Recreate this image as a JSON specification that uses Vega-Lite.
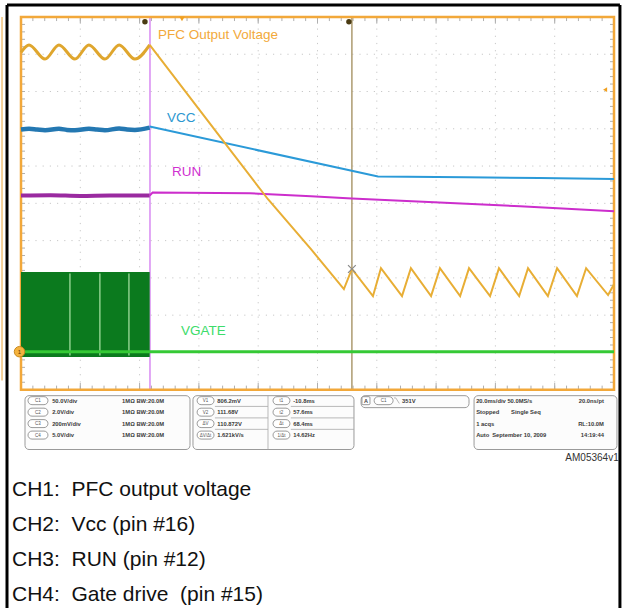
{
  "$schema": "https://vega.github.io/schema/vega-lite/v6.json",
  "width": 622,
  "height": 610,
  "autosize": {"type": "fit", "contains": "padding"},
  "padding": 0,
  "background": "white",
  "config": {"view": {"stroke": null}, "text": {"font": "Liberation Sans"}},
  "datasets": {
    "gridx": [{"t": 20}, {"t": 40}, {"t": 60}, {"t": 80}, {"t": 100}, {"t": 120}, {"t": 140}, {"t": 160}, {"t": 180}],
    "gridy": [{"v": 1}, {"v": 2}, {"v": 3}, {"v": 4}, {"v": 5}, {"v": 6}, {"v": 7}, {"v": 8}, {"v": 9}],
    "xticks": [{"t":4},{"t":8},{"t":12},{"t":16},{"t":20},{"t":24},{"t":28},{"t":32},{"t":36},{"t":40},{"t":44},{"t":48},{"t":52},{"t":56},{"t":60},{"t":64},{"t":68},{"t":72},{"t":76},{"t":80},{"t":84},{"t":88},{"t":92},{"t":96},{"t":100},{"t":104},{"t":108},{"t":112},{"t":116},{"t":120},{"t":124},{"t":128},{"t":132},{"t":136},{"t":140},{"t":144},{"t":148},{"t":152},{"t":156},{"t":160},{"t":164},{"t":168},{"t":172},{"t":176},{"t":180},{"t":184},{"t":188},{"t":192},{"t":196}],
    "yticks": [{"v":0.2},{"v":0.4},{"v":0.6},{"v":0.8},{"v":1.0},{"v":1.2},{"v":1.4},{"v":1.6},{"v":1.8},{"v":2.0},{"v":2.2},{"v":2.4},{"v":2.6},{"v":2.8},{"v":3.0},{"v":3.2},{"v":3.4},{"v":3.6},{"v":3.8},{"v":4.0},{"v":4.2},{"v":4.4},{"v":4.6},{"v":4.8},{"v":5.0},{"v":5.2},{"v":5.4},{"v":5.6},{"v":5.8},{"v":6.0},{"v":6.2},{"v":6.4},{"v":6.6},{"v":6.8},{"v":7.0},{"v":7.2},{"v":7.4},{"v":7.6},{"v":7.8},{"v":8.0},{"v":8.2},{"v":8.4},{"v":8.6},{"v":8.8},{"v":9.0},{"v":9.2},{"v":9.4},{"v":9.6},{"v":9.8}],
    "border": [
      {"t": -4.72, "v": 10.32, "t2": 202.0, "v2": 10.32},
      {"t": -4.72, "v": 10.32, "t2": -4.72, "v2": -5.856},
      {"t": 202.0, "v": 10.32, "t2": 202.0, "v2": -5.856}
    ],
    "frame": [{"t": 0, "t2": 200, "v": 0, "v2": 10}],
    "pfc_ripple": [
      {"t": 0, "v": 9.05}, {"t": 2.7, "v": 9.25}, {"t": 8.1, "v": 8.87}, {"t": 12.8, "v": 9.25}, {"t": 18.2, "v": 8.87},
      {"t": 22.9, "v": 9.25}, {"t": 28.3, "v": 8.87}, {"t": 33.1, "v": 9.25}, {"t": 38.4, "v": 8.87}, {"t": 43.4, "v": 9.25}
    ],
    "pfc": [
      {"t": 43.4, "v": 9.25}, {"t": 69.1, "v": 6.58}, {"t": 83.3, "v": 5.11}, {"t": 97.8, "v": 3.77}, {"t": 108.9, "v": 2.7},
      {"t": 111.6, "v": 3.24}, {"t": 118.7, "v": 2.51}, {"t": 121.4, "v": 3.26}, {"t": 128.5, "v": 2.51}, {"t": 131.5, "v": 3.26},
      {"t": 138.3, "v": 2.51}, {"t": 141.3, "v": 3.26}, {"t": 148.1, "v": 2.51}, {"t": 151.1, "v": 3.26}, {"t": 158.2, "v": 2.51},
      {"t": 161.2, "v": 3.26}, {"t": 168.0, "v": 2.51}, {"t": 171.0, "v": 3.26}, {"t": 177.7, "v": 2.51}, {"t": 180.8, "v": 3.26},
      {"t": 187.5, "v": 2.51}, {"t": 190.6, "v": 3.26}, {"t": 198.0, "v": 2.54}, {"t": 200, "v": 2.83}
    ],
    "vcc_pre": [
      {"t": 0, "v": 6.98}, {"t": 2.7, "v": 7.0}, {"t": 5.4, "v": 6.98}, {"t": 8.1, "v": 6.96}, {"t": 12.8, "v": 7.0}, {"t": 15.5, "v": 6.97}, {"t": 18.2, "v": 6.96},
      {"t": 22.9, "v": 7.0}, {"t": 25.6, "v": 6.98}, {"t": 28.3, "v": 6.96}, {"t": 33.1, "v": 7.01}, {"t": 35.8, "v": 6.98}, {"t": 38.4, "v": 6.97}, {"t": 43.4, "v": 7.03}
    ],
    "vcc": [
      {"t": 43.4, "v": 7.06}, {"t": 120.4, "v": 5.72}, {"t": 150, "v": 5.7}, {"t": 175, "v": 5.68}, {"t": 200, "v": 5.65}
    ],
    "run_pre": [
      {"t": 0, "v": 5.21}, {"t": 10, "v": 5.22}, {"t": 20, "v": 5.2}, {"t": 30, "v": 5.21}, {"t": 43.4, "v": 5.21}
    ],
    "run": [
      {"t": 43.4, "v": 5.21}, {"t": 44.4, "v": 5.29}, {"t": 77.2, "v": 5.27}, {"t": 97.8, "v": 5.19}, {"t": 111.6, "v": 5.13},
      {"t": 139.3, "v": 5.03}, {"t": 168.3, "v": 4.92}, {"t": 200, "v": 4.79}
    ],
    "gate": [{"t": 0, "v": 1.02}, {"t": 200, "v": 1.02}],
    "gate_block": [{"t": 0, "t2": 43.4, "v": 0.88, "v2": 3.16}],
    "gate_gaps": [{"t": 16.5}, {"t": 26.6}, {"t": 36.4}],
    "trig": [{"t": 43.5}],
    "cursor": [{"t": 111.6}],
    "dots": [{"t": 41.8, "v": 9.87}, {"t": 110.6, "v": 9.87}],
    "xmark": [{"t": 111.6, "v": 3.24}],
    "tmark": [{"t": 54.3, "v": 9.95}],
    "lvl": [{"t": 197.0, "v": 8.05}],
    "gnd": [{"t": -0.5, "v": 1.02, "label": "1"}],
    "labels": [
      {"t": 46.2, "v": 9.52, "label": "PFC Output Voltage"},
      {"t": 49.2, "v": 7.3, "label": "VCC"},
      {"t": 50.9, "v": 5.83, "label": "RUN"},
      {"t": 54.0, "v": 1.58, "label": "VGATE"}
    ],
    "boxes": [
      {"t": 1.35, "t2": 57.0, "v": -0.16, "v2": -1.604},
      {"t": 58.0, "t2": 112.3, "v": -0.16, "v2": -1.604},
      {"t": 114.7, "t2": 151.1, "v": -0.16, "v2": -0.481},
      {"t": 152.8, "t2": 201.0, "v": -0.16, "v2": -1.604}
    ],
    "pills": [
      {"t": 2.36, "t2": 9.1, "v": -0.187, "v2": -0.401, "label": "C1"},
      {"t": 2.36, "t2": 9.1, "v": -0.495, "v2": -0.709, "label": "C2"},
      {"t": 2.36, "t2": 9.1, "v": -0.802, "v2": -1.016, "label": "C3"},
      {"t": 2.36, "t2": 9.1, "v": -1.11, "v2": -1.324, "label": "C4"},
      {"t": 59.4, "t2": 65.1, "v": -0.187, "v2": -0.401, "label": "V1"},
      {"t": 59.4, "t2": 65.1, "v": -0.495, "v2": -0.709, "label": "V2"},
      {"t": 59.4, "t2": 65.1, "v": -0.802, "v2": -1.016, "label": "ΔV"},
      {"t": 59.4, "t2": 65.1, "v": -1.11, "v2": -1.324, "label": "ΔV/Δt"},
      {"t": 85.0, "t2": 90.7, "v": -0.187, "v2": -0.401, "label": "t1"},
      {"t": 85.0, "t2": 90.7, "v": -0.495, "v2": -0.709, "label": "t2"},
      {"t": 85.0, "t2": 90.7, "v": -0.802, "v2": -1.016, "label": "Δt"},
      {"t": 85.0, "t2": 90.7, "v": -1.11, "v2": -1.324, "label": "1/Δt"},
      {"t": 119.1, "t2": 125.5, "v": -0.187, "v2": -0.401, "label": "C1"}
    ],
    "abox": [{"t": 115.0, "t2": 117.7, "v": -0.187, "v2": -0.401, "label": "A"}],
    "seps": [
      {"t": 83.3, "t2": 83.3, "v": -0.16, "v2": -1.604},
      {"t": 65.4, "t2": 83.3, "v": -0.448, "v2": -0.448},
      {"t": 65.4, "t2": 83.3, "v": -0.756, "v2": -0.756},
      {"t": 65.4, "t2": 83.3, "v": -1.063, "v2": -1.063},
      {"t": 91.0, "t2": 112.3, "v": -0.448, "v2": -0.448},
      {"t": 91.0, "t2": 112.3, "v": -0.756, "v2": -0.756},
      {"t": 91.0, "t2": 112.3, "v": -1.063, "v2": -1.063},
      {"t": 125.8, "t2": 126.4, "v": -0.22, "v2": -0.22},
      {"t": 126.4, "t2": 127.6, "v": -0.22, "v2": -0.37}
    ],
    "boxtext": [
      {"t": 10.5, "v": -0.294, "label": "50.0V/div"},
      {"t": 10.5, "v": -0.602, "label": "2.0V/div"},
      {"t": 10.5, "v": -0.909, "label": "200mV/div"},
      {"t": 10.5, "v": -1.217, "label": "5.0V/div"},
      {"t": 34.1, "v": -0.294, "label": "1MΩ  BW:20.0M"},
      {"t": 34.1, "v": -0.602, "label": "1MΩ  BW:20.0M"},
      {"t": 34.1, "v": -0.909, "label": "1MΩ  BW:20.0M"},
      {"t": 34.1, "v": -1.217, "label": "1MΩ  BW:20.0M"},
      {"t": 66.2, "v": -0.294, "label": "806.2mV"},
      {"t": 66.2, "v": -0.602, "label": "111.68V"},
      {"t": 66.2, "v": -0.909, "label": "110.872V"},
      {"t": 66.2, "v": -1.217, "label": "1.621kV/s"},
      {"t": 91.8, "v": -0.294, "label": "-10.8ms"},
      {"t": 91.8, "v": -0.602, "label": "57.6ms"},
      {"t": 91.8, "v": -0.909, "label": "68.4ms"},
      {"t": 91.8, "v": -1.217, "label": "14.62Hz"},
      {"t": 128.5, "v": -0.294, "label": "351V"},
      {"t": 153.5, "v": -0.294, "label": "20.0ms/div 50.0MS/s"},
      {"t": 153.5, "v": -0.602, "label": "Stopped"},
      {"t": 165.3, "v": -0.602, "label": "Single Seq"},
      {"t": 153.5, "v": -0.909, "label": "1 acqs"},
      {"t": 153.5, "v": -1.217, "label": "Auto"},
      {"t": 158.9, "v": -1.217, "label": "September 10, 2009"}
    ],
    "boxtext_r": [
      {"t": 196.6, "v": -0.294, "label": "20.0ns/pt"},
      {"t": 196.6, "v": -0.909, "label": "RL:10.0M"},
      {"t": 196.6, "v": -1.217, "label": "14:19:44"}
    ],
    "ref": [{"t": 201.6, "v": -1.82, "label": "AM05364v1"}],
    "ch": [
      {"t": -3.04, "v": -2.69, "label": "CH1:\u00a0 PFC output voltage"},
      {"t": -3.04, "v": -3.625, "label": "CH2:\u00a0 Vcc (pin #16)"},
      {"t": -3.04, "v": -4.56, "label": "CH3:\u00a0 RUN (pin #12)"},
      {"t": -3.04, "v": -5.495, "label": "CH4:\u00a0 Gate drive\u00a0 (pin #15)"}
    ],
    "edge": [{"t": -6.4, "t2": -6.4, "v": 10.0, "v2": 0.25}]
  },
  "layer": [
    {"data": {"name": "gridx"}, "mark": {"type": "rule", "color": "#C8C8C8", "strokeWidth": 1, "strokeDash": [1.2, 6]},
     "encoding": {
       "x": {"field": "t", "type": "quantitative", "scale": {"domain": [-7.083, 202.698], "nice": false, "zero": false}, "axis": null},
       "y": {"datum": 0, "type": "quantitative", "scale": {"domain": [-5.856, 10.455], "nice": false, "zero": false}, "axis": null},
       "y2": {"datum": 10}}},
    {"data": {"name": "gridy"}, "mark": {"type": "rule", "color": "#C8C8C8", "strokeWidth": 1, "strokeDash": [1.2, 6]},
     "encoding": {
       "x": {"datum": 0, "type": "quantitative", "scale": {"domain": [-7.083, 202.698], "nice": false, "zero": false}, "axis": null},
       "x2": {"datum": 200},
       "y": {"field": "v", "type": "quantitative", "scale": {"domain": [-5.856, 10.455], "nice": false, "zero": false}, "axis": null}}},
    {"data": {"name": "xticks"}, "mark": {"type": "rule", "color": "#AFAFAF", "strokeWidth": 1},
     "encoding": {
       "x": {"field": "t", "type": "quantitative", "scale": {"domain": [-7.083, 202.698], "nice": false, "zero": false}, "axis": null},
       "y": {"datum": 10, "type": "quantitative", "scale": {"domain": [-5.856, 10.455], "nice": false, "zero": false}, "axis": null},
       "y2": {"datum": 9.89}}},
    {"data": {"name": "xticks"}, "mark": {"type": "rule", "color": "#AFAFAF", "strokeWidth": 1},
     "encoding": {
       "x": {"field": "t", "type": "quantitative", "scale": {"domain": [-7.083, 202.698], "nice": false, "zero": false}, "axis": null},
       "y": {"datum": 0, "type": "quantitative", "scale": {"domain": [-5.856, 10.455], "nice": false, "zero": false}, "axis": null},
       "y2": {"datum": 0.11}}},
    {"data": {"name": "gridx"}, "mark": {"type": "rule", "color": "#AFAFAF", "strokeWidth": 1},
     "encoding": {
       "x": {"field": "t", "type": "quantitative", "scale": {"domain": [-7.083, 202.698], "nice": false, "zero": false}, "axis": null},
       "y": {"datum": 10, "type": "quantitative", "scale": {"domain": [-5.856, 10.455], "nice": false, "zero": false}, "axis": null},
       "y2": {"datum": 9.82}}},
    {"data": {"name": "gridx"}, "mark": {"type": "rule", "color": "#AFAFAF", "strokeWidth": 1},
     "encoding": {
       "x": {"field": "t", "type": "quantitative", "scale": {"domain": [-7.083, 202.698], "nice": false, "zero": false}, "axis": null},
       "y": {"datum": 0, "type": "quantitative", "scale": {"domain": [-5.856, 10.455], "nice": false, "zero": false}, "axis": null},
       "y2": {"datum": 0.18}}},
    {"data": {"name": "yticks"}, "mark": {"type": "rule", "color": "#AFAFAF", "strokeWidth": 1},
     "encoding": {
       "x": {"datum": 0, "type": "quantitative", "scale": {"domain": [-7.083, 202.698], "nice": false, "zero": false}, "axis": null},
       "x2": {"datum": 1.35},
       "y": {"field": "v", "type": "quantitative", "scale": {"domain": [-5.856, 10.455], "nice": false, "zero": false}, "axis": null}}},
    {"data": {"name": "yticks"}, "mark": {"type": "rule", "color": "#AFAFAF", "strokeWidth": 1},
     "encoding": {
       "x": {"datum": 200, "type": "quantitative", "scale": {"domain": [-7.083, 202.698], "nice": false, "zero": false}, "axis": null},
       "x2": {"datum": 198.65},
       "y": {"field": "v", "type": "quantitative", "scale": {"domain": [-5.856, 10.455], "nice": false, "zero": false}, "axis": null}}},
    {"data": {"name": "border"}, "mark": {"type": "rule", "color": "#000000", "strokeWidth": 3},
     "encoding": {
       "x": {"field": "t", "type": "quantitative", "scale": {"domain": [-7.083, 202.698], "nice": false, "zero": false}, "axis": null},
       "x2": {"field": "t2"},
       "y": {"field": "v", "type": "quantitative", "scale": {"domain": [-5.856, 10.455], "nice": false, "zero": false}, "axis": null},
       "y2": {"field": "v2"}}},
    {"data": {"name": "edge"}, "mark": {"type": "rule", "color": "#F0C27A", "strokeWidth": 1.5},
     "encoding": {
       "x": {"field": "t", "type": "quantitative", "scale": {"domain": [-7.083, 202.698], "nice": false, "zero": false}, "axis": null},
       "x2": {"field": "t2"},
       "y": {"field": "v", "type": "quantitative", "scale": {"domain": [-5.856, 10.455], "nice": false, "zero": false}, "axis": null},
       "y2": {"field": "v2"}}},
    {"data": {"name": "trig"}, "mark": {"type": "rule", "color": "#D88AF2", "strokeWidth": 1.5},
     "encoding": {
       "x": {"field": "t", "type": "quantitative", "scale": {"domain": [-7.083, 202.698], "nice": false, "zero": false}, "axis": null},
       "y": {"datum": 0, "type": "quantitative", "scale": {"domain": [-5.856, 10.455], "nice": false, "zero": false}, "axis": null},
       "y2": {"datum": 10}}},
    {"data": {"name": "cursor"}, "mark": {"type": "rule", "color": "#AD9B70", "strokeWidth": 1.5},
     "encoding": {
       "x": {"field": "t", "type": "quantitative", "scale": {"domain": [-7.083, 202.698], "nice": false, "zero": false}, "axis": null},
       "y": {"datum": 0, "type": "quantitative", "scale": {"domain": [-5.856, 10.455], "nice": false, "zero": false}, "axis": null},
       "y2": {"datum": 10}}},
    {"data": {"name": "frame"}, "mark": {"type": "rect", "fillOpacity": 0, "stroke": "#F2A83A", "strokeWidth": 2.5},
     "encoding": {
       "x": {"field": "t", "type": "quantitative", "scale": {"domain": [-7.083, 202.698], "nice": false, "zero": false}, "axis": null},
       "x2": {"field": "t2"},
       "y": {"field": "v", "type": "quantitative", "scale": {"domain": [-5.856, 10.455], "nice": false, "zero": false}, "axis": null},
       "y2": {"field": "v2"}}},
    {"data": {"name": "gate_block"}, "mark": {"type": "rect", "color": "#0B7A1E"},
     "encoding": {
       "x": {"field": "t", "type": "quantitative", "scale": {"domain": [-7.083, 202.698], "nice": false, "zero": false}, "axis": null},
       "x2": {"field": "t2"},
       "y": {"field": "v", "type": "quantitative", "scale": {"domain": [-5.856, 10.455], "nice": false, "zero": false}, "axis": null},
       "y2": {"field": "v2"}}},
    {"data": {"name": "gate_gaps"}, "mark": {"type": "rule", "color": "#8CCF8C", "strokeWidth": 1.5},
     "encoding": {
       "x": {"field": "t", "type": "quantitative", "scale": {"domain": [-7.083, 202.698], "nice": false, "zero": false}, "axis": null},
       "y": {"datum": 0.92, "type": "quantitative", "scale": {"domain": [-5.856, 10.455], "nice": false, "zero": false}, "axis": null},
       "y2": {"datum": 3.12}}},
    {"data": {"name": "gate"}, "mark": {"type": "line", "color": "#35C935", "strokeWidth": 3},
     "encoding": {
       "x": {"field": "t", "type": "quantitative", "scale": {"domain": [-7.083, 202.698], "nice": false, "zero": false}, "axis": null},
       "y": {"field": "v", "type": "quantitative", "scale": {"domain": [-5.856, 10.455], "nice": false, "zero": false}, "axis": null}}},
    {"data": {"name": "run_pre"}, "mark": {"type": "line", "color": "#9A2AA0", "strokeWidth": 4, "interpolate": "monotone"},
     "encoding": {
       "x": {"field": "t", "type": "quantitative", "scale": {"domain": [-7.083, 202.698], "nice": false, "zero": false}, "axis": null},
       "y": {"field": "v", "type": "quantitative", "scale": {"domain": [-5.856, 10.455], "nice": false, "zero": false}, "axis": null}}},
    {"data": {"name": "run"}, "mark": {"type": "line", "color": "#CC2ECC", "strokeWidth": 2},
     "encoding": {
       "x": {"field": "t", "type": "quantitative", "scale": {"domain": [-7.083, 202.698], "nice": false, "zero": false}, "axis": null},
       "y": {"field": "v", "type": "quantitative", "scale": {"domain": [-5.856, 10.455], "nice": false, "zero": false}, "axis": null}}},
    {"data": {"name": "vcc_pre"}, "mark": {"type": "line", "color": "#2478B2", "strokeWidth": 4.5, "interpolate": "monotone"},
     "encoding": {
       "x": {"field": "t", "type": "quantitative", "scale": {"domain": [-7.083, 202.698], "nice": false, "zero": false}, "axis": null},
       "y": {"field": "v", "type": "quantitative", "scale": {"domain": [-5.856, 10.455], "nice": false, "zero": false}, "axis": null}}},
    {"data": {"name": "vcc"}, "mark": {"type": "line", "color": "#2B9AD8", "strokeWidth": 2},
     "encoding": {
       "x": {"field": "t", "type": "quantitative", "scale": {"domain": [-7.083, 202.698], "nice": false, "zero": false}, "axis": null},
       "y": {"field": "v", "type": "quantitative", "scale": {"domain": [-5.856, 10.455], "nice": false, "zero": false}, "axis": null}}},
    {"data": {"name": "pfc_ripple"}, "mark": {"type": "line", "color": "#DFA62E", "strokeWidth": 3, "interpolate": "monotone"},
     "encoding": {
       "x": {"field": "t", "type": "quantitative", "scale": {"domain": [-7.083, 202.698], "nice": false, "zero": false}, "axis": null},
       "y": {"field": "v", "type": "quantitative", "scale": {"domain": [-5.856, 10.455], "nice": false, "zero": false}, "axis": null}}},
    {"data": {"name": "pfc"}, "mark": {"type": "line", "color": "#E8AE35", "strokeWidth": 2},
     "encoding": {
       "x": {"field": "t", "type": "quantitative", "scale": {"domain": [-7.083, 202.698], "nice": false, "zero": false}, "axis": null},
       "y": {"field": "v", "type": "quantitative", "scale": {"domain": [-5.856, 10.455], "nice": false, "zero": false}, "axis": null}}},
    {"data": {"name": "xmark"}, "mark": {"type": "point", "shape": "M-1,-1L1,1M-1,1L1,-1", "filled": false, "color": "#8A8A8A", "size": 60, "strokeWidth": 1.2, "opacity": 1},
     "encoding": {
       "x": {"field": "t", "type": "quantitative", "scale": {"domain": [-7.083, 202.698], "nice": false, "zero": false}, "axis": null},
       "y": {"field": "v", "type": "quantitative", "scale": {"domain": [-5.856, 10.455], "nice": false, "zero": false}, "axis": null}}},
    {"data": {"name": "dots"}, "mark": {"type": "point", "shape": "circle", "filled": true, "color": "#4A3B12", "size": 30, "opacity": 1},
     "encoding": {
       "x": {"field": "t", "type": "quantitative", "scale": {"domain": [-7.083, 202.698], "nice": false, "zero": false}, "axis": null},
       "y": {"field": "v", "type": "quantitative", "scale": {"domain": [-5.856, 10.455], "nice": false, "zero": false}, "axis": null}}},
    {"data": {"name": "tmark"}, "mark": {"type": "point", "shape": "triangle-down", "filled": true, "color": "#F0A020", "size": 30, "opacity": 1},
     "encoding": {
       "x": {"field": "t", "type": "quantitative", "scale": {"domain": [-7.083, 202.698], "nice": false, "zero": false}, "axis": null},
       "y": {"field": "v", "type": "quantitative", "scale": {"domain": [-5.856, 10.455], "nice": false, "zero": false}, "axis": null}}},
    {"data": {"name": "lvl"}, "mark": {"type": "point", "shape": "triangle-left", "filled": true, "color": "#F0A020", "size": 22, "opacity": 1},
     "encoding": {
       "x": {"field": "t", "type": "quantitative", "scale": {"domain": [-7.083, 202.698], "nice": false, "zero": false}, "axis": null},
       "y": {"field": "v", "type": "quantitative", "scale": {"domain": [-5.856, 10.455], "nice": false, "zero": false}, "axis": null}}},
    {"data": {"name": "gnd"}, "mark": {"type": "point", "shape": "circle", "filled": true, "fill": "#F4B23E", "stroke": "#C98A1E", "strokeWidth": 1, "size": 110, "opacity": 1},
     "encoding": {
       "x": {"field": "t", "type": "quantitative", "scale": {"domain": [-7.083, 202.698], "nice": false, "zero": false}, "axis": null},
       "y": {"field": "v", "type": "quantitative", "scale": {"domain": [-5.856, 10.455], "nice": false, "zero": false}, "axis": null}}},
    {"data": {"name": "gnd"}, "mark": {"type": "text", "fontSize": 6, "color": "#5A3A00", "align": "center", "baseline": "middle"},
     "encoding": {
       "x": {"field": "t", "type": "quantitative", "scale": {"domain": [-7.083, 202.698], "nice": false, "zero": false}, "axis": null},
       "y": {"field": "v", "type": "quantitative", "scale": {"domain": [-5.856, 10.455], "nice": false, "zero": false}, "axis": null},
       "text": {"field": "label"}}},
    {"data": {"name": "labels"}, "mark": {"type": "text", "fontSize": 13.5, "align": "left", "baseline": "middle"},
     "encoding": {
       "x": {"field": "t", "type": "quantitative", "scale": {"domain": [-7.083, 202.698], "nice": false, "zero": false}, "axis": null},
       "y": {"field": "v", "type": "quantitative", "scale": {"domain": [-5.856, 10.455], "nice": false, "zero": false}, "axis": null},
       "text": {"field": "label"},
       "color": {"field": "label", "type": "nominal", "legend": null,
         "scale": {"domain": ["PFC Output Voltage", "VCC", "RUN", "VGATE"], "range": ["#F2A93B", "#2C97D0", "#D030D0", "#3DDC6B"]}}}},
    {"data": {"name": "boxes"}, "mark": {"type": "rect", "fill": "#FCFCFC", "stroke": "#9A9A9A", "strokeWidth": 1, "cornerRadius": 4},
     "encoding": {
       "x": {"field": "t", "type": "quantitative", "scale": {"domain": [-7.083, 202.698], "nice": false, "zero": false}, "axis": null},
       "x2": {"field": "t2"},
       "y": {"field": "v", "type": "quantitative", "scale": {"domain": [-5.856, 10.455], "nice": false, "zero": false}, "axis": null},
       "y2": {"field": "v2"}}},
    {"data": {"name": "seps"}, "mark": {"type": "rule", "color": "#A8A8A8", "strokeWidth": 0.8},
     "encoding": {
       "x": {"field": "t", "type": "quantitative", "scale": {"domain": [-7.083, 202.698], "nice": false, "zero": false}, "axis": null},
       "x2": {"field": "t2"},
       "y": {"field": "v", "type": "quantitative", "scale": {"domain": [-5.856, 10.455], "nice": false, "zero": false}, "axis": null},
       "y2": {"field": "v2"}}},
    {"data": {"name": "pills"}, "mark": {"type": "rect", "fill": "#FFFFFF", "stroke": "#808080", "strokeWidth": 0.8, "cornerRadius": 4},
     "encoding": {
       "x": {"field": "t", "type": "quantitative", "scale": {"domain": [-7.083, 202.698], "nice": false, "zero": false}, "axis": null},
       "x2": {"field": "t2"},
       "y": {"field": "v", "type": "quantitative", "scale": {"domain": [-5.856, 10.455], "nice": false, "zero": false}, "axis": null},
       "y2": {"field": "v2"}}},
    {"data": {"name": "abox"}, "mark": {"type": "rect", "fill": "#FFFFFF", "stroke": "#808080", "strokeWidth": 0.8, "cornerRadius": 1},
     "encoding": {
       "x": {"field": "t", "type": "quantitative", "scale": {"domain": [-7.083, 202.698], "nice": false, "zero": false}, "axis": null},
       "x2": {"field": "t2"},
       "y": {"field": "v", "type": "quantitative", "scale": {"domain": [-5.856, 10.455], "nice": false, "zero": false}, "axis": null},
       "y2": {"field": "v2"}}},
    {"data": {"name": "pills"}, "transform": [{"calculate": "(datum.t + datum.t2) / 2", "as": "pc"}, {"calculate": "(datum.v + datum.v2) / 2", "as": "pm"}],
     "mark": {"type": "text", "fontSize": 4.5, "color": "#555555", "align": "center", "baseline": "middle", "dy": 0.5},
     "encoding": {
       "x": {"field": "pc", "type": "quantitative", "scale": {"domain": [-7.083, 202.698], "nice": false, "zero": false}, "axis": null},
       "y": {"field": "pm", "type": "quantitative", "scale": {"domain": [-5.856, 10.455], "nice": false, "zero": false}, "axis": null},
       "text": {"field": "label"}}},
    {"data": {"name": "abox"}, "transform": [{"calculate": "(datum.t + datum.t2) / 2", "as": "pc"}, {"calculate": "(datum.v + datum.v2) / 2", "as": "pm"}],
     "mark": {"type": "text", "fontSize": 5.5, "fontWeight": "bold", "color": "#444444", "align": "center", "baseline": "middle", "dy": 0.5},
     "encoding": {
       "x": {"field": "pc", "type": "quantitative", "scale": {"domain": [-7.083, 202.698], "nice": false, "zero": false}, "axis": null},
       "y": {"field": "pm", "type": "quantitative", "scale": {"domain": [-5.856, 10.455], "nice": false, "zero": false}, "axis": null},
       "text": {"field": "label"}}},
    {"data": {"name": "boxtext"}, "mark": {"type": "text", "fontSize": 5.8, "fontWeight": "bold", "color": "#3A3A3A", "align": "left", "baseline": "middle"},
     "encoding": {
       "x": {"field": "t", "type": "quantitative", "scale": {"domain": [-7.083, 202.698], "nice": false, "zero": false}, "axis": null},
       "y": {"field": "v", "type": "quantitative", "scale": {"domain": [-5.856, 10.455], "nice": false, "zero": false}, "axis": null},
       "text": {"field": "label"}}},
    {"data": {"name": "boxtext_r"}, "mark": {"type": "text", "fontSize": 5.8, "fontWeight": "bold", "color": "#3A3A3A", "align": "right", "baseline": "middle"},
     "encoding": {
       "x": {"field": "t", "type": "quantitative", "scale": {"domain": [-7.083, 202.698], "nice": false, "zero": false}, "axis": null},
       "y": {"field": "v", "type": "quantitative", "scale": {"domain": [-5.856, 10.455], "nice": false, "zero": false}, "axis": null},
       "text": {"field": "label"}}},
    {"data": {"name": "ref"}, "mark": {"type": "text", "fontSize": 10, "color": "#333333", "align": "right", "baseline": "middle"},
     "encoding": {
       "x": {"field": "t", "type": "quantitative", "scale": {"domain": [-7.083, 202.698], "nice": false, "zero": false}, "axis": null},
       "y": {"field": "v", "type": "quantitative", "scale": {"domain": [-5.856, 10.455], "nice": false, "zero": false}, "axis": null},
       "text": {"field": "label"}}},
    {"data": {"name": "ch"}, "mark": {"type": "text", "fontSize": 21, "color": "#111111", "align": "left", "baseline": "middle"},
     "encoding": {
       "x": {"field": "t", "type": "quantitative", "scale": {"domain": [-7.083, 202.698], "nice": false, "zero": false}, "axis": null},
       "y": {"field": "v", "type": "quantitative", "scale": {"domain": [-5.856, 10.455], "nice": false, "zero": false}, "axis": null},
       "text": {"field": "label"}}}
  ]
}
